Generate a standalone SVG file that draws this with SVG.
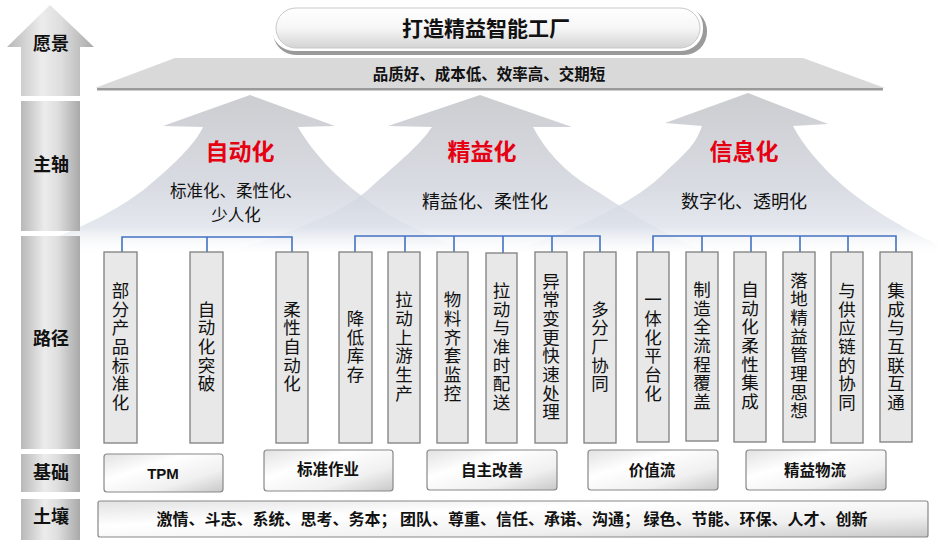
<svg xmlns="http://www.w3.org/2000/svg" width="937" height="542" viewBox="0 0 937 542">
<defs>
<linearGradient id="col" x1="0" y1="0" x2="1" y2="0">
<stop offset="0" stop-color="#b8b8b8"/><stop offset="0.4" stop-color="#ececec"/><stop offset="0.62" stop-color="#dedede"/><stop offset="1" stop-color="#a9a9a9"/>
</linearGradient>
<linearGradient id="arw" gradientUnits="userSpaceOnUse" x1="0" y1="95" x2="0" y2="256">
<stop offset="0" stop-color="#c0c1c6"/><stop offset="0.55" stop-color="#ced2da"/><stop offset="0.82" stop-color="#dde2ea"/><stop offset="1" stop-color="#ffffff" stop-opacity="0"/>
</linearGradient>
<linearGradient id="pill" x1="0" y1="0" x2="0" y2="1">
<stop offset="0" stop-color="#ffffff"/><stop offset="0.5" stop-color="#f6f6f6"/><stop offset="1" stop-color="#d4d4d4"/>
</linearGradient>
<linearGradient id="btn" x1="0" y1="0" x2="1" y2="1">
<stop offset="0" stop-color="#e2e2e2"/><stop offset="0.35" stop-color="#ffffff"/><stop offset="0.7" stop-color="#f0f0f0"/><stop offset="1" stop-color="#c8c8c8"/>
</linearGradient>
<style>
.lbl{font-family:"Noto Sans CJK SC","Liberation Sans",sans-serif;font-weight:bold;font-size:18px;fill:#111;text-anchor:middle}
.red{font-family:"Noto Sans CJK SC","Liberation Sans",sans-serif;font-weight:bold;font-size:23px;fill:#e60012;text-anchor:middle}
.sub{font-family:"Noto Sans CJK SC","Liberation Sans",sans-serif;font-size:18px;fill:#111;text-anchor:middle}
.vt{font-family:"Noto Sans CJK SC","Liberation Sans",sans-serif;font-size:17.5px;fill:#111;text-anchor:middle;writing-mode:vertical-rl;letter-spacing:1.2px}
.bt{font-family:"Noto Sans CJK SC","Liberation Sans",sans-serif;font-weight:bold;font-size:15.5px;fill:#111;text-anchor:middle}
.box{fill:#e8e8e8;stroke:#7f7f7f;stroke-width:1.3}
.btn{fill:url(#btn);stroke:#888;stroke-width:1.2}
.seg{fill:url(#col)}
.arrow{fill:url(#arw);opacity:0.8}
.conn{fill:none;stroke:#4472c4;stroke-width:1.6}
</style>
</defs>
<rect width="937" height="542" fill="#fff"/>

<!-- big arrows -->
<g id="arrows">
<path class="arrow" d="M250,95 L335,126 L298,127 C310,148 330,172 363,197 S425,234 475,254 L30,254 L30,248 C90,225 125,205 147,187 S195,145 203,127 L163,126 Z"/>
<path class="arrow" d="M480,95 L572,127 L533,127 C545,150 565,172 590,187 S650,228 710,254 L225,254 C290,232 340,215 370,188 S420,145 432,127 L388,126 Z"/>
<path class="arrow" d="M748,93 L828,124 L793,126 C803,145 820,165 840,183 S900,228 945,248 L945,254 L505,254 C570,232 630,205 660,177 S695,145 702,126 L665,123 Z"/>
</g>

<!-- left column -->
<g id="col-vision">
<polygon class="seg" points="50,5 94,47 80,47 80,96 21,96 21,47 7,47"/>
<text class="lbl" x="51" y="50">愿景</text>
</g>
<g id="col-axis">
<rect class="seg" x="21" y="101" width="59" height="130"/>
<text class="lbl" x="51" y="171">主轴</text>
</g>
<g id="col-path">
<rect class="seg" x="21" y="236" width="59" height="213"/>
<text class="lbl" x="51" y="345">路径</text>
</g>
<g id="col-base">
<rect class="seg" x="21" y="454" width="59" height="38"/>
<text class="lbl" x="51" y="479">基础</text>
</g>
<g id="col-soil">
<rect class="seg" x="21" y="499" width="59" height="41"/>
<text class="lbl" x="51" y="523">土壤</text>
</g>

<!-- vision banner -->
<g id="banner">
<rect x="273" y="8" width="434" height="47" rx="23" fill="#9a9a9a"/>
<rect x="272" y="5" width="431" height="46" rx="22" fill="#fff"/>
<rect x="276" y="8" width="424" height="40" rx="20" fill="url(#pill)" stroke="#c9c9c9" stroke-width="1"/>
<text class="lbl" x="486" y="36" style="font-size:21px">打造精益智能工厂</text>
</g>

<g id="goal">
<polygon points="175,58 803,58 885,88 95,88" fill="#d9d9d9"/>
<rect x="97" y="88" width="786" height="2.5" fill="#9a9a9a"/>
<text class="lbl" x="489" y="80" style="font-size:15.5px">品质好、成本低、效率高、交期短</text>
</g>

<!-- axis titles -->
<g id="axis-auto">
<text class="red" x="240" y="160">自动化</text>
<text class="sub" x="236" y="197" style="font-size:16.5px">标准化、柔性化、</text>
<text class="sub" x="236" y="221" style="font-size:16.5px">少人化</text>
</g>
<g id="axis-lean">
<text class="red" x="482" y="160">精益化</text>
<text class="sub" x="485" y="208">精益化、柔性化</text>
</g>
<g id="axis-info">
<text class="red" x="744" y="160">信息化</text>
<text class="sub" x="744" y="208">数字化、透明化</text>
</g>

<!-- connectors -->
<g id="connectors">
<path class="conn" d="M122,253 V237 H292 V253 M207,237 V253"/>
<path class="conn" d="M355,253 V236 H600 V253 M405,236 V253 M454,236 V253 M503,236 V253 M552,236 V253"/>
<path class="conn" d="M653,253 V236 H896 V253 M702,236 V253 M751,236 V253 M800,236 V253 M848,236 V253"/>
</g>

<!-- path boxes -->
<g id="p1"><rect class="box" x="104" y="252" width="33" height="191"/><text class="vt" x="120.5" y="347">部分产品标准化</text></g>
<g id="p2"><rect class="box" x="190" y="252" width="33" height="191"/><text class="vt" x="206.5" y="347">自动化突破</text></g>
<g id="p3"><rect class="box" x="276" y="252" width="32" height="191"/><text class="vt" x="292" y="347">柔性自动化</text></g>
<g id="p4"><rect class="box" x="339" y="252" width="33" height="191"/><text class="vt" x="355.5" y="347">降低库存</text></g>
<g id="p5"><rect class="box" x="388" y="252" width="32" height="191"/><text class="vt" x="404" y="347">拉动上游生产</text></g>
<g id="p6"><rect class="box" x="437" y="252" width="31" height="191"/><text class="vt" x="452.5" y="347">物料齐套监控</text></g>
<g id="p7"><rect class="box" x="486" y="253" width="31" height="190"/><text class="vt" x="501.5" y="347">拉动与准时配送</text></g>
<g id="p8"><rect class="box" x="535" y="252" width="32" height="191"/><text class="vt" x="551" y="347">异常变更快速处理</text></g>
<g id="p9"><rect class="box" x="584" y="252" width="32" height="191"/><text class="vt" x="600" y="347">多分厂协同</text></g>
<g id="p10"><rect class="box" x="637" y="252" width="32" height="190"/><text class="vt" x="653" y="347">一体化平台化</text></g>
<g id="p11"><rect class="box" x="686" y="252" width="32" height="189"/><text class="vt" x="702" y="346">制造全流程覆盖</text></g>
<g id="p12"><rect class="box" x="734" y="252" width="32" height="190"/><text class="vt" x="750" y="346">自动化柔性集成</text></g>
<g id="p13"><rect class="box" x="783" y="252" width="32" height="190"/><text class="vt" x="799" y="346">落地精益管理思想</text></g>
<g id="p14"><rect class="box" x="831" y="252" width="32" height="191"/><text class="vt" x="847" y="347">与供应链的协同</text></g>
<g id="p15"><rect class="box" x="880" y="252" width="32" height="190"/><text class="vt" x="896" y="347">集成与互联互通</text></g>

<!-- foundation -->
<g id="b1"><rect class="btn" x="104" y="454" width="119" height="38" rx="3"/><text class="bt" x="163" y="479" style="font-family:'Liberation Sans',sans-serif;font-size:15px">TPM</text></g>
<g id="b2"><rect class="btn" x="264" y="450" width="129" height="41" rx="3"/><text class="bt" x="328" y="475">标准作业</text></g>
<g id="b3"><rect class="btn" x="427" y="450" width="130" height="40" rx="3"/><text class="bt" x="492" y="476">自主改善</text></g>
<g id="b4"><rect class="btn" x="588" y="450" width="130" height="40" rx="3"/><text class="bt" x="652" y="476">价值流</text></g>
<g id="b5"><rect class="btn" x="746" y="450" width="140" height="40" rx="3"/><text class="bt" x="815" y="476">精益物流</text></g>

<!-- soil -->
<g id="soil"><rect class="btn" x="98" y="501" width="830" height="36" rx="2"/><text class="bt" x="512" y="525" textLength="711" lengthAdjust="spacingAndGlyphs">激情、斗志、系统、思考、务本； 团队、尊重、信任、承诺、沟通； 绿色、节能、环保、人才、创新</text></g>
</svg>
